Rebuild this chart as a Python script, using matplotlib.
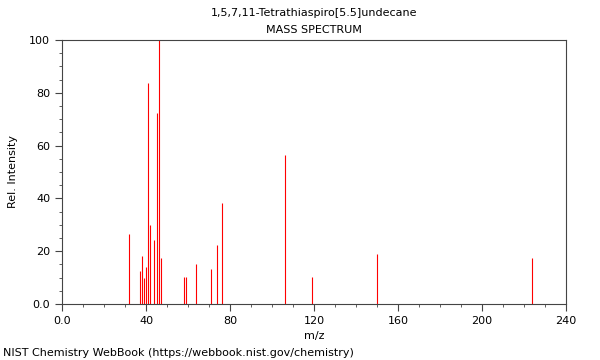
import matplotlib
matplotlib.use('Agg')
import matplotlib.pyplot as plt
from matplotlib.ticker import MultipleLocator

mz = [32, 37, 38, 39, 40, 41, 42, 44, 45, 46, 47, 58, 59, 64, 71, 74, 76,
      106, 119, 150, 224]
intensity = [26.5, 12.5, 18.3, 10, 14.1, 83.8, 29.9, 24.1, 72.2, 100, 17.4,
             10.1, 10.1, 15, 13.4, 22.5, 38.3, 56.4, 10.1, 19.1, 17.4]
xticks = [0, 40, 80, 120, 160, 200, 240]
xlabels = ['0.0', '40', '80', '120', '160', '200', '240']
yticks = [0, 20, 40, 60, 80, 100]
ylabels = ['0.0', '20', '40', '60', '80', '100']

plt.rcParams['font.size'] = 8
fig = plt.figure(figsize=(6, 3.6), dpi=100)
ax = fig.add_axes([62/600, 1-304/360, 504/600, 264/360])

ax.vlines(mz, 0, intensity, color='red', lw=0.8)
ax.set_xlim(0, 240)
ax.set_ylim(0, 100)
ax.set_xticks(xticks)
ax.set_xticklabels(xlabels)
ax.set_yticks(yticks)
ax.set_yticklabels(ylabels)
ax.xaxis.set_minor_locator(MultipleLocator(10))
ax.yaxis.set_minor_locator(MultipleLocator(5))
ax.tick_params(which='major', length=5, width=0.8, color='#444444')
ax.tick_params(which='minor', length=2.5, width=0.6, color='#444444')
for s in ax.spines.values():
    s.set_color('#444444')
    s.set_linewidth(0.8)

ax.set_xlabel('m/z')
ax.set_ylabel('Rel. Intensity', labelpad=8)
fig.text(314/600, 1-13/360, '1,5,7,11-Tetrathiaspiro[5.5]undecane', ha='center', va='center')
fig.text(314/600, 1-30/360, 'MASS SPECTRUM', ha='center', va='center')
fig.text(3/600, 1-353/360, 'NIST Chemistry WebBook (https://webbook.nist.gov/chemistry)',
         ha='left', va='center')

fig.savefig('out.png', dpi=100)
